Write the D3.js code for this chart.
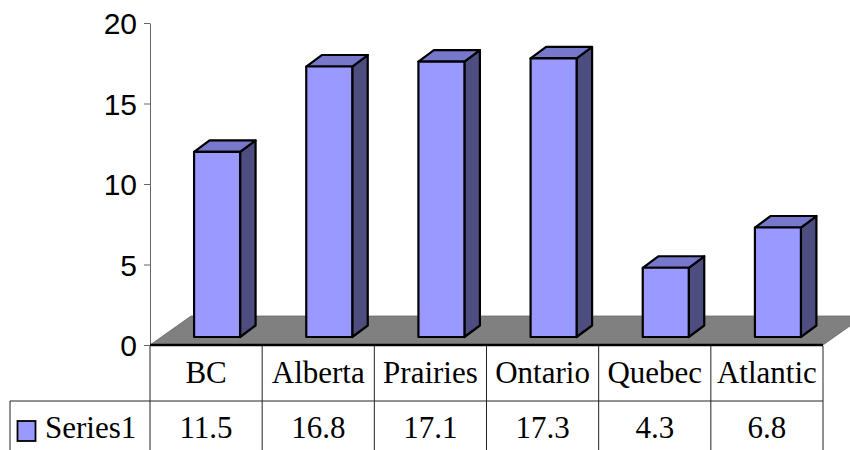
<!DOCTYPE html>
<html>
<head>
<meta charset="utf-8">
<script src="https://cdn.jsdelivr.net/npm/d3@7"></script>
<style>
  body { margin: 0; background: #fff; }
  svg { display: block; }
</style>
</head>
<body>
<div id="chart"></div>
<script>
const categories = ["BC", "Alberta", "Prairies", "Ontario", "Quebec", "Atlantic"];
const seriesName = "Series1";
const values = [11.5, 16.8, 17.1, 17.3, 4.3, 6.8];
const yTicks = [0, 5, 10, 15, 20];

const width = 850, height = 450;
const plot = { left: 150, right: 823, top: 23, bottom: 345 };
const floorDepth = { dx: 41, dy: -29 };
const barFront = { dx: 11, dy: -8 };
const barDepth = { dx: 15.5, dy: -11.5 };
const barWidth = 46;
const tableRow = 401;

const svg = d3.select("#chart").append("svg")
  .attr("width", width)
  .attr("height", height)
  .attr("viewBox", `0 0 ${width} ${height}`);

const x = d3.scaleBand().domain(categories).range([plot.left, plot.right]).padding(0);
const y = d3.scaleLinear().domain([0, 20]).range([plot.bottom, plot.top]);

// floor
const floor = [
  [plot.left, plot.bottom],
  [plot.left + floorDepth.dx, plot.bottom + floorDepth.dy],
  [plot.right + floorDepth.dx, plot.bottom + floorDepth.dy],
  [plot.right, plot.bottom]
];
svg.append("path")
  .attr("d", d3.line()(floor) + "Z")
  .attr("fill", "#808080")
  .attr("stroke", "#6a6a6a")
  .attr("stroke-width", 0.8);

// y axis
const yAxis = d3.axisLeft(y).tickValues(yTicks).tickSizeInner(6).tickSizeOuter(0).tickPadding(7);
const ag = svg.append("g")
  .attr("transform", `translate(${plot.left},0)`)
  .call(yAxis);
ag.select(".domain").attr("stroke", "#666");
ag.selectAll(".tick line").attr("stroke", "#666");
ag.selectAll(".tick text")
  .attr("font-family", "'Liberation Sans', Arial, sans-serif")
  .attr("font-size", 30)
  .attr("fill", "#000")
  .attr("dy", "0.36em");

// bars
const bars = svg.append("g");
values.forEach((v, i) => {
  const cx = x(categories[i]) + x.bandwidth() / 2 + barFront.dx;
  const x0 = cx - barWidth / 2, x1 = cx + barWidth / 2;
  const yb = y(0) + barFront.dy, yt = y(v) + barFront.dy;
  const dx = barDepth.dx, dy = barDepth.dy;
  const g = bars.append("g")
    .attr("stroke", "#000")
    .attr("stroke-width", 2.2)
    .attr("stroke-linejoin", "round");
  g.append("path")
    .attr("d", d3.line()([[x1, yt], [x1 + dx, yt + dy], [x1 + dx, yb + dy], [x1, yb]]) + "Z")
    .attr("fill", "#4d4d80");
  g.append("path")
    .attr("d", d3.line()([[x0, yt], [x0 + dx, yt + dy], [x1 + dx, yt + dy], [x1, yt]]) + "Z")
    .attr("fill", "#7777cc");
  g.append("rect")
    .attr("x", x0).attr("y", yt)
    .attr("width", barWidth).attr("height", yb - yt)
    .attr("fill", "#9999ff");
});

// category axis line
svg.append("line")
  .attr("x1", plot.left).attr("x2", plot.right)
  .attr("y1", plot.bottom).attr("y2", plot.bottom)
  .attr("stroke", "#000").attr("stroke-width", 2.5);

// data table
const table = svg.append("g").attr("stroke", "#222").attr("stroke-width", 1);
const cols = categories.map(c => x(c)).concat([plot.right]);
cols.forEach(cx => {
  table.append("line")
    .attr("x1", cx).attr("x2", cx)
    .attr("y1", plot.bottom + 1).attr("y2", height);
});
table.append("line")
  .attr("x1", 10).attr("x2", plot.right)
  .attr("y1", tableRow).attr("y2", tableRow);
table.append("line")
  .attr("x1", 10).attr("x2", 10)
  .attr("y1", tableRow).attr("y2", height);

const serif = "'Liberation Serif', 'Times New Roman', serif";
svg.append("g").selectAll("text")
  .data(categories)
  .join("text")
  .attr("x", d => x(d) + x.bandwidth() / 2)
  .attr("y", 383)
  .attr("text-anchor", "middle")
  .attr("font-family", serif)
  .attr("font-size", 31)
  .text(d => d);

svg.append("g").selectAll("text")
  .data(values)
  .join("text")
  .attr("x", (d, i) => x(categories[i]) + x.bandwidth() / 2)
  .attr("y", 438)
  .attr("text-anchor", "middle")
  .attr("font-family", serif)
  .attr("font-size", 31)
  .text(d => d.toFixed(1));

// legend key
svg.append("rect")
  .attr("x", 17.5).attr("y", 421)
  .attr("width", 18).attr("height", 20)
  .attr("fill", "#9999ff")
  .attr("stroke", "#000").attr("stroke-width", 1.8);
svg.append("text")
  .attr("x", 45).attr("y", 438)
  .attr("font-family", serif)
  .attr("font-size", 31)
  .text(seriesName);
</script>
</body>
</html>
